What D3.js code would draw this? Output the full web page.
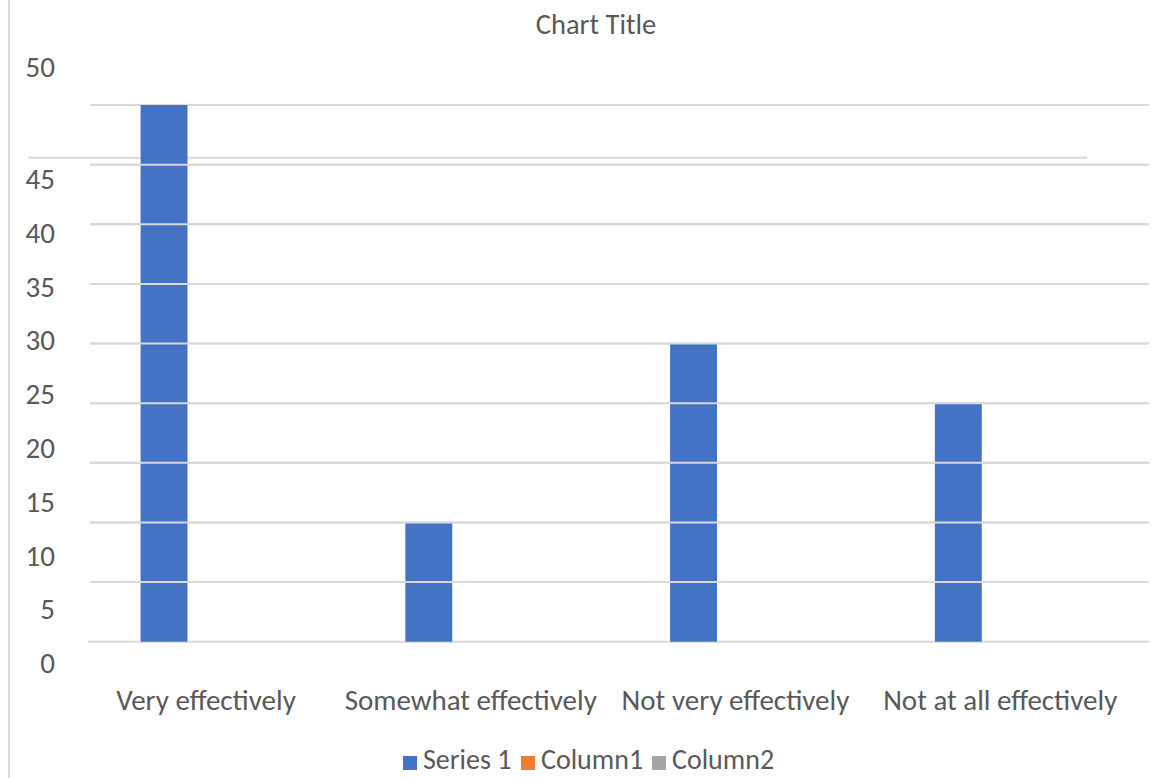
<!DOCTYPE html>
<html>
<head>
<meta charset="utf-8">
<script src="https://cdn.jsdelivr.net/npm/d3@7/dist/d3.min.js"></script>
<style>
  html, body { margin: 0; padding: 0; background: #fff; }
  svg text { font-family: Carlito, Calibri, Lato, sans-serif; fill: #595959; }
</style>
</head>
<body>
<svg id="chart" width="1176" height="778"></svg>
<script>
// Survey answers and their counts
const categories = ["Very effectively", "Somewhat effectively", "Not very effectively", "Not at all effectively"];
const seriesNames = ["Series 1", "Column1", "Column2"];
const series1 = [50, 15, 30, 25];
const column1 = [null, null, null, null];
const column2 = [null, null, null, null];
const tickLabels = [0, 5, 10, 15, 20, 25, 30, 35, 40, 45, 50];
const gridValues = [5, 10, 15, 20, 25, 30, 35, 40, 45, 50];
const title = "Chart Title";

const colors = ["#4472c4", "#ed7d31", "#a5a5a5"];
const seriesData = [series1, column1, column2];

const svg = d3.select("#chart");
const W = 1176, H = 778;

// value axis: the plotted floor sits on the lowest gridline
const yFloor = 5;
const y = d3.scaleLinear().domain([yFloor, 50]).range([641.7, 105]);
// tick labels are spread on their own track beside the gridlines
const yLabel = d3.scaleLinear().domain([0, 45, 50]).range([663, 179, 67]);

const x0 = d3.scaleBand().domain(categories).range([75.6, 1134.6]);
const x1 = d3.scaleBand().domain(seriesNames)
  .range([65, x0.bandwidth() - 59]).paddingInner(0);

// left border of the frame
svg.append("line")
  .attr("x1", 9).attr("x2", 9).attr("y1", 0).attr("y2", H)
  .attr("stroke", "#d9d9d9").attr("stroke-width", 2);

// title
svg.append("text")
  .attr("x", 596).attr("y", 34)
  .attr("text-anchor", "middle")
  .style("font-size", "28.5px")
  .text(title);

// gridlines
svg.append("g").selectAll("line")
  .data(gridValues)
  .join("line")
  .attr("x1", d => d === yFloor ? 88 : 90)
  .attr("x2", 1149)
  .attr("y1", d => y(d)).attr("y2", d => y(d))
  .attr("stroke", "#d9d9d9").attr("stroke-width", 2);

// stray horizontal rule across the upper plot
svg.append("line")
  .attr("x1", 28).attr("x2", 1087)
  .attr("y1", 157.7).attr("y2", 157.7)
  .attr("stroke", "#d9d9d9").attr("stroke-width", 2);

// bars
const groups = svg.append("g").selectAll("g")
  .data(seriesNames)
  .join("g")
  .attr("fill", (d, i) => colors[i]);

groups.selectAll("rect")
  .data((s, i) => categories.map((c, j) => ({ c, s, v: seriesData[i][j] })).filter(d => d.v != null))
  .join("rect")
  .attr("x", d => x0(d.c) + x1(d.s))
  .attr("width", x1.bandwidth())
  .attr("y", d => y(d.v))
  .attr("height", d => y(yFloor) - y(d.v));

// gridlines crossing the bars
svg.append("g").selectAll("line")
  .data(gridValues.filter(v => v !== yFloor && v !== 50))
  .join("line")
  .attr("x1", 90).attr("x2", 1149)
  .attr("y1", d => y(d)).attr("y2", d => y(d))
  .attr("stroke", "#d9d9d9").attr("stroke-width", 2);

// value tick labels
svg.append("g").selectAll("text")
  .data(tickLabels)
  .join("text")
  .attr("x", 55)
  .attr("y", d => yLabel(d))
  .attr("dy", "0.35em")
  .attr("text-anchor", "end")
  .style("font-size", "29px")
  .text(d => d);

// category labels
svg.append("g").selectAll("text")
  .data(categories)
  .join("text")
  .attr("x", d => x0(d) + x0.bandwidth() / 2 - 2)
  .attr("y", 710)
  .attr("text-anchor", "middle")
  .style("font-size", "29px")
  .text(d => d);

// legend
const legendX = [403, 521, 652];
const lg = svg.append("g").selectAll("g")
  .data(seriesNames)
  .join("g")
  .attr("transform", (d, i) => `translate(${legendX[i]},0)`);
lg.append("rect")
  .attr("x", 0).attr("y", 756).attr("width", 14).attr("height", 14)
  .attr("fill", (d, i) => colors[i]);
lg.append("text")
  .attr("x", 20).attr("y", 769)
  .style("font-size", "28px")
  .text(d => d);
</script>
</body>
</html>
